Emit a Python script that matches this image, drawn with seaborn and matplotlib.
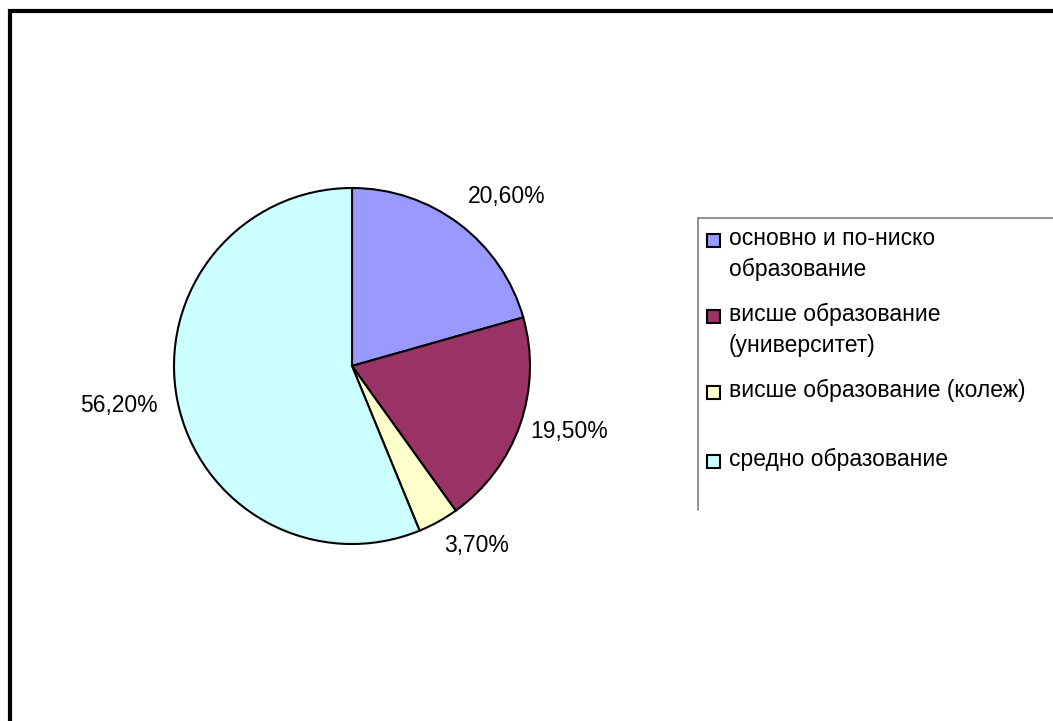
import matplotlib
matplotlib.use("Agg")
import matplotlib.pyplot as plt
import matplotlib.patches as mpatches
import matplotlib.lines as mlines
import seaborn as sns

# data
categories = ["основно и по-ниско\nобразование",
              "висше образование\n(университет)",
              "висше образование (колеж)",
              "средно образование"]
shares = [20.6, 19.5, 3.7, 56.2]
share_labels = ["20,60%", "19,50%", "3,70%", "56,20%"]
colors = ["#9999FF", "#993366", "#FFFFCC", "#CCFFFF"]

sns.set_theme(style="white")
plt.rcParams['font.family'] = ['Liberation Sans', 'DejaVu Sans']
pal = sns.color_palette(colors)

W, H = 1053, 721
fig = plt.figure(figsize=(W / 100, H / 100), dpi=100)
fig.patch.set_facecolor("white")

# outer chart border (goes off the right and bottom edges)
fig.patches.append(mpatches.Rectangle((10 / W, -0.1), 1.2, 1 - 11 / H + 0.1,
                                      transform=fig.transFigure, fill=False,
                                      edgecolor="black", linewidth=3))

# pie axes, centre and radius in pixels
cx, cy, r = 352, 366, 178
ax = fig.add_axes([(cx - r) / W, (H - cy - r) / H, 2 * r / W, 2 * r / H])
wedges, _ = ax.pie(shares, colors=pal, startangle=90, counterclock=False,
                   radius=1, wedgeprops=dict(edgecolor="black", linewidth=1.5))
ax.set_xlim(-1, 1)
ax.set_ylim(-1, 1)
ax.set_aspect("equal")
ax.axis("off")

# percentage labels where the original puts them
label_pos = [(0.87, 0.95), (1.22, -0.37), (0.70, -1.01), (-1.31, -0.22)]
for txt, (x, y) in zip(share_labels, label_pos):
    ax.text(x, y, txt, ha="center", va="center", fontsize=16.5, color="black",
            clip_on=False)

# legend, drawn by hand to keep the squares on the first text line
lc = "#808080"
fig.add_artist(mlines.Line2D([698 / W, 1.0], [1 - 218 / H, 1 - 218 / H],
                             color=lc, linewidth=1.2, transform=fig.transFigure))
fig.add_artist(mlines.Line2D([698 / W, 698 / W], [1 - 218 / H, 1 - 510 / H],
                             color=lc, linewidth=1.2, transform=fig.transFigure))
entry_y = [240, 316, 392, 461]
sq = 13
for lab, col, y in zip(categories, pal, entry_y):
    fig.patches.append(mpatches.Rectangle((707 / W, 1 - (y + sq / 2) / H),
                                          sq / W, sq / H,
                                          transform=fig.transFigure,
                                          facecolor=col, edgecolor="black",
                                          linewidth=1.5))
    fig.text(729 / W, 1 - (y - 13) / H, lab, ha="left", va="top",
             fontsize=16.5, color="black", linespacing=1.42)

fig.savefig("out.png", dpi=100)
